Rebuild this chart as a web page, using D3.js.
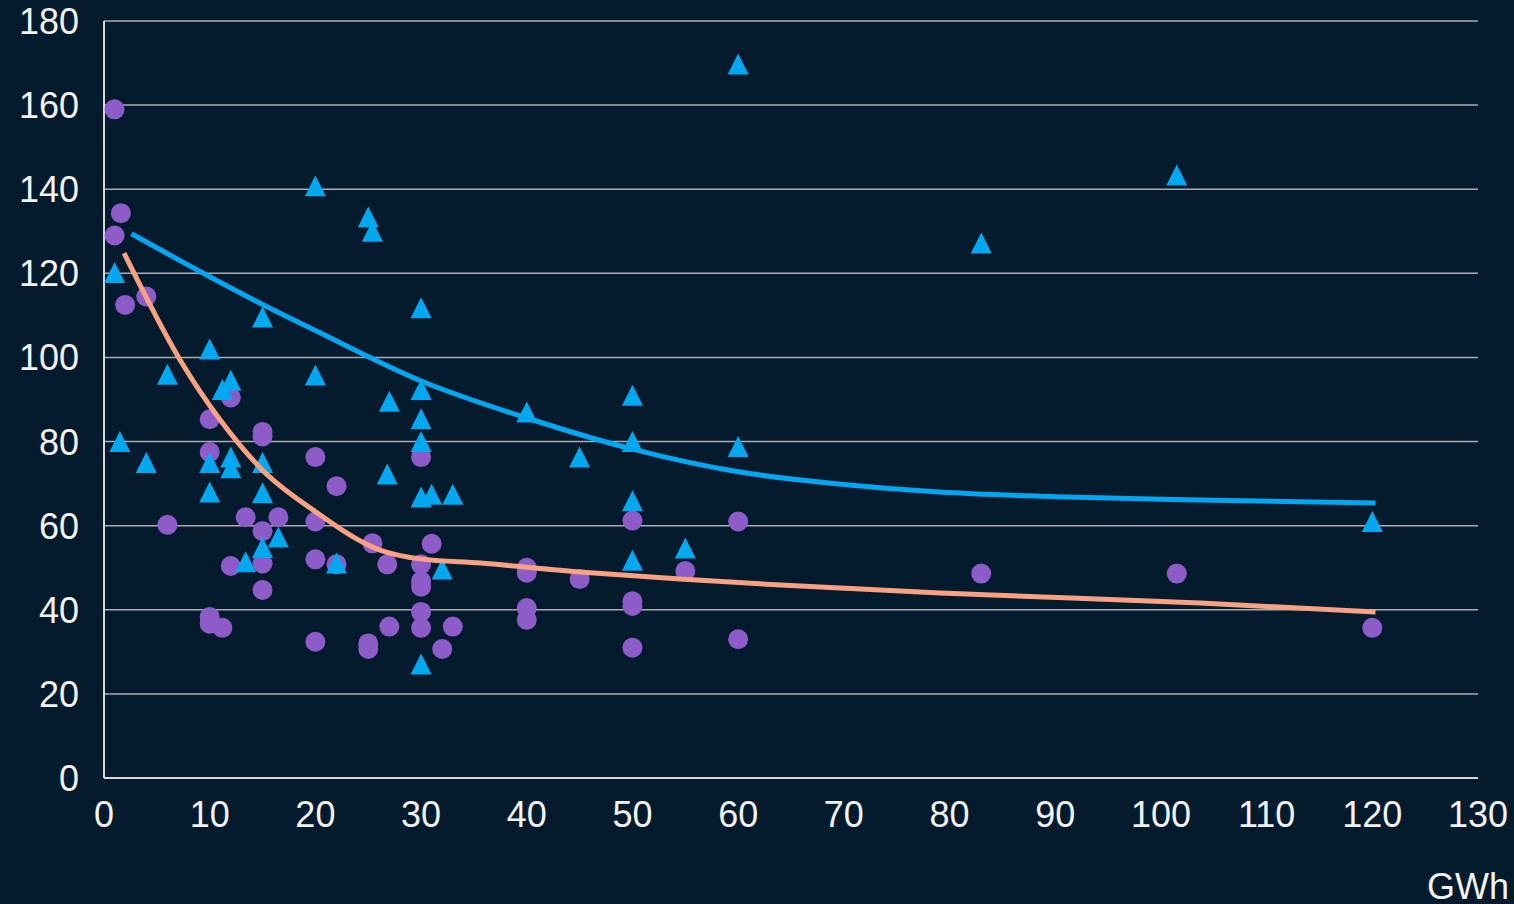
<!DOCTYPE html>
<html>
<head>
<meta charset="utf-8">
<script src="https://cdn.jsdelivr.net/npm/d3@7"></script>
<style>
  html, body { margin: 0; padding: 0; background: #041b2e; }
  svg { display: block; }
  text { font-family: "Liberation Sans", Arial, sans-serif; fill: #f2f2f2; }
</style>
</head>
<body>
<svg id="chart" width="1514" height="904"></svg>
<script>
// purple circles: [GWh, value]
const circlePoints = [
  [1, 159], [1.6, 134.3], [1, 129], [4, 114.5], [2, 112.5], [6, 60.2],
  [10, 85.3], [10, 77.5], [12, 90.5], [15, 82.3], [15, 81.2],
  [10, 38.3], [10, 36.7], [11.2, 35.7], [12, 50.4], [13.4, 62], [15, 58.7],
  [16.5, 62], [15, 51], [15, 44.7], [20, 76.3], [20, 61], [20, 52], [20, 32.4],
  [22, 69.4], [22, 50.8], [25.4, 55.8], [25, 32], [25, 30.7], [26.8, 50.8], [27, 36],
  [30, 76.3], [30, 50.8], [30, 46.8], [30, 45.5], [30, 39.5], [30, 35.7],
  [31, 55.7], [32, 30.7], [33, 36], [40, 50], [40, 48.8], [40, 40.4], [40, 37.6],
  [45, 47.3], [50, 61.2], [50, 42], [50, 40.9], [50, 31], [55, 49.2],
  [60, 61], [60, 33], [83, 48.6], [101.5, 48.6], [120, 35.7]
];

// blue triangles: [GWh, value]
const trianglePoints = [
  [60, 169.8], [101.5, 143.4], [20, 140.8], [25, 133.4], [25.4, 130], [83, 127.2],
  [1, 120.2], [30, 111.8], [15, 109.6], [10, 102], [6, 96], [20, 95.8],
  [12, 94.6], [11.2, 92.4], [30, 92.4], [50, 91], [27, 89.6], [40, 87],
  [30, 85.4], [1.5, 80], [30, 80], [50, 80], [60, 78.8], [4, 75], [12, 76.3],
  [12, 73.8], [10, 75], [15, 75], [45, 76.3], [26.8, 72.3], [10, 68], [15, 67.8],
  [30, 66.8], [31, 67.5], [33, 67.5], [50, 65.9], [16.5, 57.3], [15, 54.8],
  [13.4, 51.4], [22, 51.1], [32, 49.7], [50, 51.8], [55, 54.7], [30, 27.1], [120, 61]
];

// trend lines
const blueTrend = [
  [2.6, 129.4], [10, 119.2], [15, 112.6], [20, 106.4], [30, 94.4], [40, 85.6],
  [50, 78.2], [60, 72.8], [70, 69.8], [79, 68], [90, 66.9], [103.7, 66.1], [120.3, 65.4]
];
const orangeTrend = [
  [1.9, 124.8], [7.2, 99.4], [11, 85.1], [15, 73.2], [19.8, 63.7], [26.1, 54.2],
  [29.9, 52.1], [35.6, 51.1], [45, 49], [54.5, 47.3], [64, 45.9], [79.1, 44],
  [103.7, 41.6], [120.3, 39.5]
];

const xTicks = d3.range(0, 131, 10);
const yTicks = d3.range(0, 181, 20);

const svg = d3.select('#chart');
const plot = { left: 104, right: 1478, top: 21, bottom: 778 };

const x = d3.scaleLinear().domain([0, 130]).range([plot.left, plot.right]);
const y = d3.scaleLinear().domain([0, 180]).range([plot.bottom, plot.top]);

// gridlines
svg.append('g')
  .selectAll('line')
  .data(yTicks.filter((d) => d > 0))
  .join('line')
    .attr('x1', plot.left)
    .attr('x2', plot.right)
    .attr('y1', (d) => y(d))
    .attr('y2', (d) => y(d))
    .attr('stroke', '#a9acb0')
    .attr('stroke-width', 1.5);

// axis lines
svg.append('line')
  .attr('x1', plot.left).attr('x2', plot.left)
  .attr('y1', plot.top).attr('y2', plot.bottom)
  .attr('stroke', '#d8d8d8').attr('stroke-width', 2);
svg.append('line')
  .attr('x1', plot.left).attr('x2', plot.right)
  .attr('y1', plot.bottom).attr('y2', plot.bottom)
  .attr('stroke', '#d8d8d8').attr('stroke-width', 2);

// tick labels
svg.append('g')
  .selectAll('text')
  .data(yTicks)
  .join('text')
    .attr('x', 79)
    .attr('y', (d) => y(d))
    .attr('dy', '0.36em')
    .attr('text-anchor', 'end')
    .attr('font-size', 36)
    .text((d) => d);

svg.append('g')
  .selectAll('text')
  .data(xTicks)
  .join('text')
    .attr('x', (d) => x(d))
    .attr('y', 827)
    .attr('text-anchor', 'middle')
    .attr('font-size', 36)
    .text((d) => d);

svg.append('text')
  .attr('x', 1509)
  .attr('y', 899)
  .attr('text-anchor', 'end')
  .attr('font-size', 36)
  .text('GWh');

// markers
svg.append('g')
  .selectAll('circle')
  .data(circlePoints)
  .join('circle')
    .attr('cx', (d) => x(d[0]))
    .attr('cy', (d) => y(d[1]))
    .attr('r', 10)
    .attr('fill', '#8e5cc9');

// triangle marker as tall as it is wide, like the spreadsheet one
const tallTriangle = {
  draw(context, size) {
    const h = Math.sqrt(size);
    context.moveTo(0, -h / 2);
    context.lineTo(h / 2, h / 2);
    context.lineTo(-h / 2, h / 2);
    context.closePath();
  },
};
const tri = d3.symbol().type(tallTriangle).size(441);
svg.append('g')
  .selectAll('path')
  .data(trianglePoints)
  .join('path')
    .attr('d', tri)
    .attr('transform', (d) => `translate(${x(d[0])},${y(d[1])})`)
    .attr('fill', '#00a8f0');

// trend lines
const line = d3.line()
  .x((d) => x(d[0]))
  .y((d) => y(d[1]))
  .curve(d3.curveMonotoneX);

svg.append('path')
  .datum(blueTrend)
  .attr('d', line)
  .attr('fill', 'none')
  .attr('stroke', '#00a6f0')
  .attr('stroke-width', 5);

svg.append('path')
  .datum(orangeTrend)
  .attr('d', line)
  .attr('fill', 'none')
  .attr('stroke', '#f9a283')
  .attr('stroke-width', 5);
</script>
</body>
</html>
